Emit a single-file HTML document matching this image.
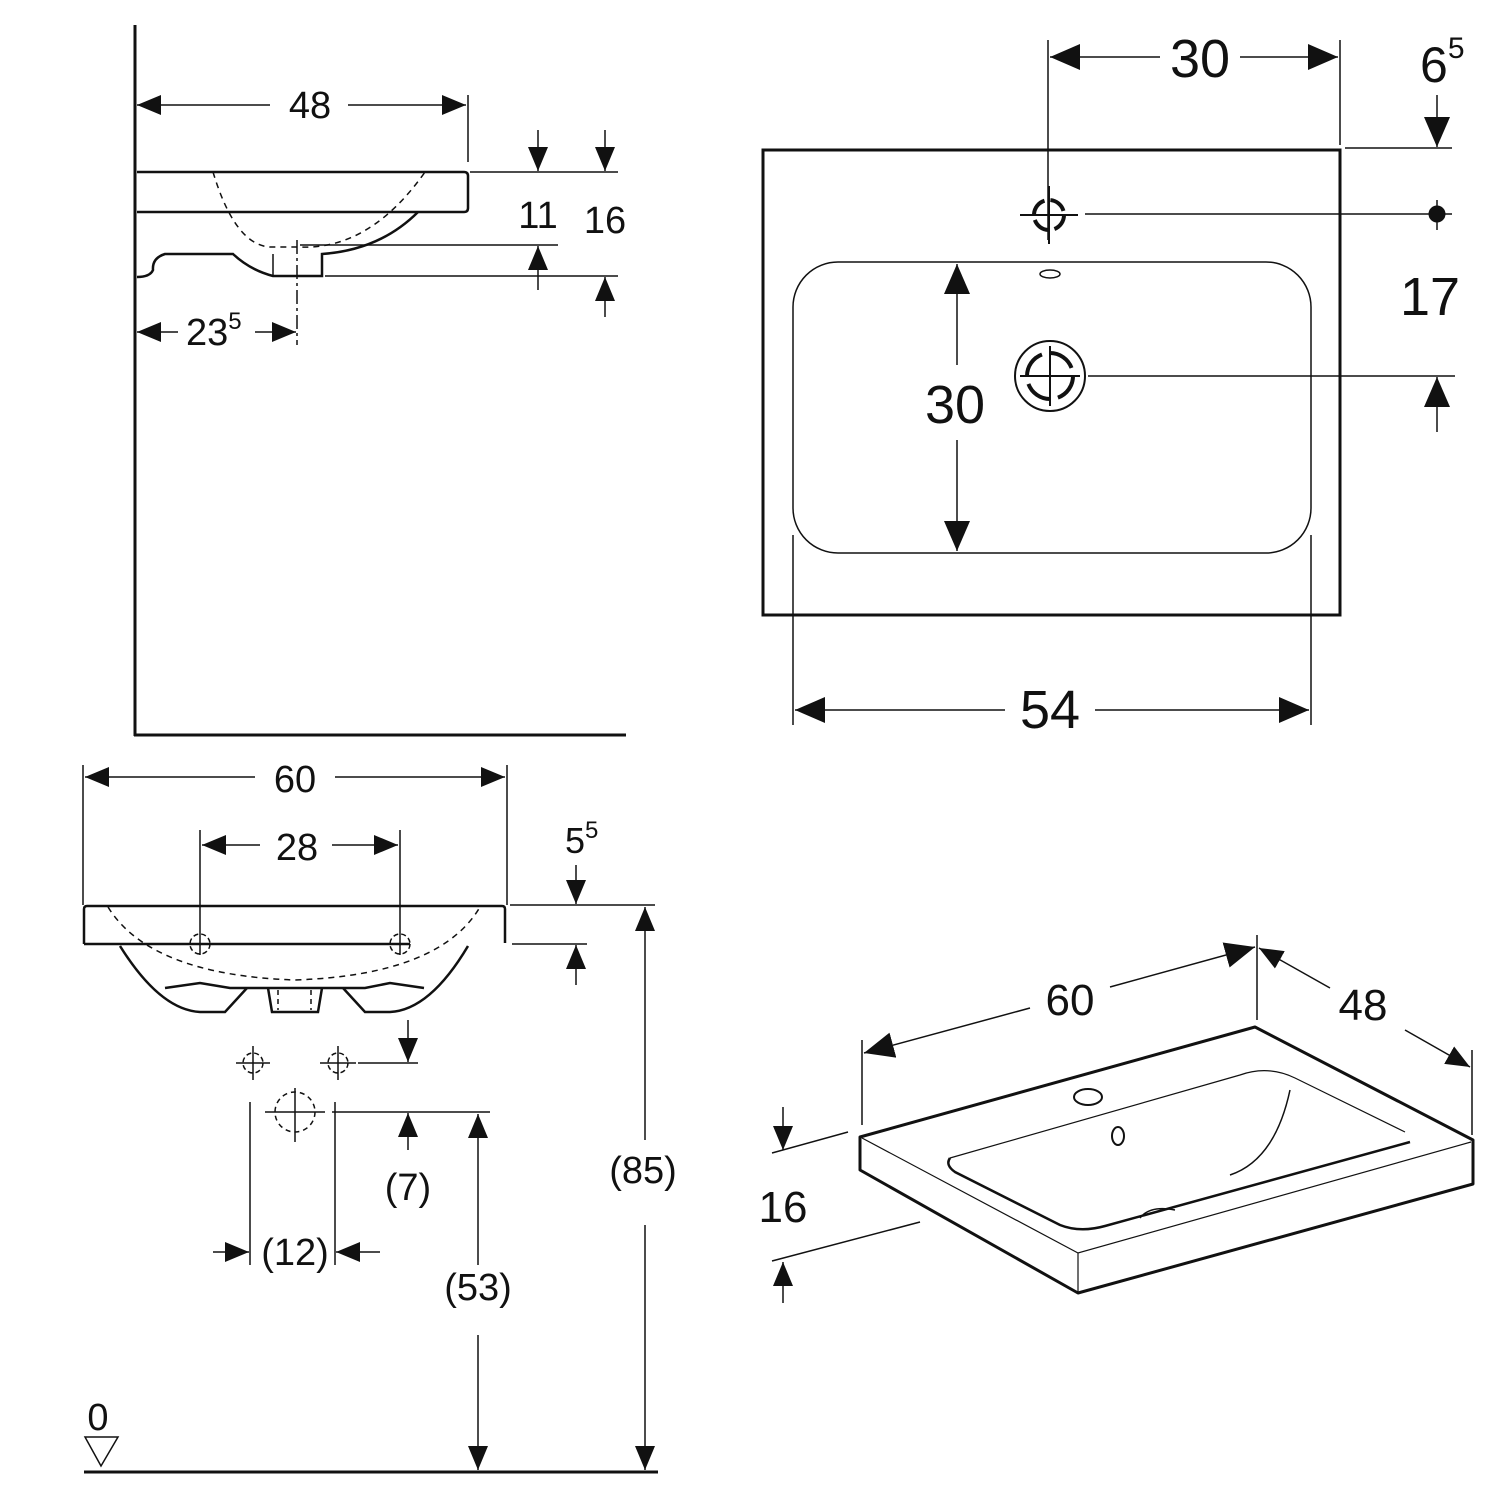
<!DOCTYPE html>
<html><head><meta charset="utf-8"><style>
html,body{margin:0;padding:0;background:#fff}
svg{display:block}
text{font-family:"Liberation Sans",Arial,sans-serif;fill:#111}
</style></head><body>
<svg width="1500" height="1500" viewBox="0 0 1500 1500" xmlns="http://www.w3.org/2000/svg">
<defs>
<marker id="a" markerUnits="userSpaceOnUse" markerWidth="32" markerHeight="28" refX="30" refY="13" orient="auto-start-reverse"><path d="M0,0 L30,13 L0,26 Z" fill="#111"/></marker>
<marker id="b" markerUnits="userSpaceOnUse" markerWidth="26" markerHeight="22" refX="24" refY="10" orient="auto-start-reverse"><path d="M0,0 L24,10 L0,20 Z" fill="#111"/></marker>
</defs>
<g stroke="#111" fill="none">
<!-- ===== Side view top-left ===== -->
<line x1="135" y1="25" x2="135" y2="736" stroke-width="3"/>
<line x1="134" y1="735" x2="626" y2="735" stroke-width="3"/>
<line x1="468" y1="95" x2="468" y2="162" stroke-width="1.5"/>
<line x1="137" y1="105" x2="270" y2="105" stroke-width="1.5" marker-start="url(#b)"/>
<line x1="348" y1="105" x2="466" y2="105" stroke-width="1.5" marker-end="url(#b)"/>
<path d="M137,172 H464 Q468,172 468,176 V208 Q468,212 464,212 H137" stroke-width="2.5"/>
<path d="M137,277 Q150,277 153,270 Q152,258 165,254 H233 Q250,270 273,276 H322 V254 Q380,250 418,212" stroke-width="2.5"/>
<path d="M273,254 V276" stroke-width="1.5"/>
<path d="M213,172 Q235,245 270,247 H300 Q370,250 425,172" stroke-width="1.5" stroke-dasharray="6,5"/>
<line x1="297" y1="240" x2="297" y2="345" stroke-width="1.5" stroke-dasharray="14,4,3,4"/>
<line x1="470" y1="172" x2="618" y2="172" stroke-width="1.5"/>
<line x1="300" y1="245" x2="558" y2="245" stroke-width="1.5"/>
<line x1="325" y1="276" x2="618" y2="276" stroke-width="1.5"/>
<line x1="538" y1="130" x2="538" y2="171" stroke-width="1.5" marker-end="url(#b)"/>
<line x1="538" y1="290" x2="538" y2="246" stroke-width="1.5" marker-end="url(#b)"/>
<line x1="605" y1="130" x2="605" y2="171" stroke-width="1.5" marker-end="url(#b)"/>
<line x1="605" y1="317" x2="605" y2="277" stroke-width="1.5" marker-end="url(#b)"/>
<line x1="137" y1="332" x2="178" y2="332" stroke-width="1.5" marker-start="url(#b)"/>
<line x1="255" y1="332" x2="296" y2="332" stroke-width="1.5" marker-end="url(#b)"/>

<!-- ===== Plan view top-right ===== -->
<rect x="763" y="150" width="577" height="465" stroke-width="3"/>
<rect x="793" y="262" width="518" height="291" rx="45" stroke-width="1.5"/>
<line x1="1048" y1="40" x2="1048" y2="240" stroke-width="1.5"/>
<line x1="1340" y1="40" x2="1340" y2="145" stroke-width="1.5"/>
<line x1="1050" y1="57" x2="1160" y2="57" stroke-width="1.5" marker-start="url(#a)"/>
<line x1="1240" y1="57" x2="1338" y2="57" stroke-width="1.5" marker-end="url(#a)"/>
<circle cx="1049" cy="215" r="15" stroke-width="4" stroke-dasharray="18,6"/>
<line x1="1020" y1="215" x2="1078" y2="215" stroke-width="2"/>
<line x1="1049" y1="186" x2="1049" y2="244" stroke-width="2"/>
<ellipse cx="1050" cy="274" rx="10" ry="4" stroke-width="1.5"/>
<circle cx="1050" cy="376" r="35" stroke-width="2"/>
<circle cx="1050" cy="376" r="23" stroke-width="4" stroke-dasharray="28,8"/>
<line x1="1020" y1="376" x2="1080" y2="376" stroke-width="2"/>
<line x1="1050" y1="346" x2="1050" y2="406" stroke-width="2"/>
<line x1="1345" y1="148" x2="1452" y2="148" stroke-width="1.5"/>
<line x1="1437" y1="95" x2="1437" y2="147" stroke-width="1.5" marker-end="url(#a)"/>
<line x1="1085" y1="214" x2="1452" y2="214" stroke-width="1.5"/>
<line x1="1437" y1="200" x2="1437" y2="230" stroke-width="1.5"/>
<circle cx="1437" cy="214" r="8" fill="#111"/>
<line x1="1088" y1="376" x2="1455" y2="376" stroke-width="1.5"/>
<line x1="1437" y1="432" x2="1437" y2="377" stroke-width="1.5" marker-end="url(#a)"/>
<line x1="957" y1="365" x2="957" y2="264" stroke-width="1.5" marker-end="url(#a)"/>
<line x1="957" y1="440" x2="957" y2="551" stroke-width="1.5" marker-end="url(#a)"/>
<line x1="793" y1="535" x2="793" y2="725" stroke-width="1.5"/>
<line x1="1311" y1="535" x2="1311" y2="725" stroke-width="1.5"/>
<line x1="795" y1="710" x2="1005" y2="710" stroke-width="1.5" marker-start="url(#a)"/>
<line x1="1095" y1="710" x2="1309" y2="710" stroke-width="1.5" marker-end="url(#a)"/>

<!-- ===== Front view bottom-left ===== -->
<line x1="83" y1="765" x2="83" y2="905" stroke-width="1.5"/>
<line x1="507" y1="765" x2="507" y2="905" stroke-width="1.5"/>
<line x1="85" y1="777" x2="255" y2="777" stroke-width="1.5" marker-start="url(#b)"/>
<line x1="335" y1="777" x2="505" y2="777" stroke-width="1.5" marker-end="url(#b)"/>
<line x1="200" y1="830" x2="200" y2="955" stroke-width="1.5"/>
<line x1="400" y1="830" x2="400" y2="955" stroke-width="1.5"/>
<line x1="202" y1="845" x2="260" y2="845" stroke-width="1.5" marker-start="url(#b)"/>
<line x1="332" y1="845" x2="398" y2="845" stroke-width="1.5" marker-end="url(#b)"/>
<path d="M84,944 V909 Q84,906 87,906 H502 Q505,906 505,909 V943" stroke-width="2.5"/>
<line x1="84" y1="944" x2="410" y2="944" stroke-width="2.5"/>
<path d="M120,946 Q160,1010 200,1012 H225 L247,988" stroke-width="2.5"/>
<path d="M468,946 Q430,1010 390,1012 H365 L343,988" stroke-width="2.5"/>
<path d="M165,988 L200,983 L230,988 H365 L390,983 L424,988" stroke-width="2.5"/>
<path d="M268,988 L272,1012 H318 L322,988" stroke-width="2.5"/>
<path d="M278,990 V1010 M311,990 V1010" stroke-width="1.5" stroke-dasharray="5,4"/>
<path d="M108,907 Q150,975 295,980 Q440,975 480,907" stroke-width="1.5" stroke-dasharray="6,5"/>
<circle cx="200" cy="944" r="10" stroke-width="1.5" stroke-dasharray="5,3"/>
<circle cx="400" cy="944" r="10" stroke-width="1.5" stroke-dasharray="5,3"/>
<line x1="510" y1="905" x2="655" y2="905" stroke-width="1.5"/>
<line x1="512" y1="944" x2="587" y2="944" stroke-width="1.5"/>
<line x1="576" y1="865" x2="576" y2="904" stroke-width="1.5" marker-end="url(#b)"/>
<line x1="576" y1="985" x2="576" y2="945" stroke-width="1.5" marker-end="url(#b)"/>
<line x1="645" y1="1140" x2="645" y2="907" stroke-width="1.5" marker-end="url(#b)"/>
<line x1="645" y1="1225" x2="645" y2="1470" stroke-width="1.5" marker-end="url(#b)"/>
<line x1="84" y1="1472" x2="658" y2="1472" stroke-width="3"/>
<path d="M85,1437 H118 L101,1466 Z" stroke-width="1.5"/>
<circle cx="253" cy="1063" r="10" stroke-width="1.5" stroke-dasharray="5,3"/>
<path d="M236,1063 H270 M253,1046 V1080" stroke-width="1.5"/>
<circle cx="338" cy="1063" r="10" stroke-width="1.5" stroke-dasharray="5,3"/>
<path d="M320,1063 H356 M338,1046 V1080" stroke-width="1.5"/>
<line x1="358" y1="1063" x2="418" y2="1063" stroke-width="1.5"/>
<line x1="408" y1="1020" x2="408" y2="1062" stroke-width="1.5" marker-end="url(#b)"/>
<circle cx="295" cy="1112" r="20" stroke-width="1.5" stroke-dasharray="5,4"/>
<path d="M265,1112 H325 M295,1088 V1142" stroke-width="1.5"/>
<line x1="332" y1="1112" x2="490" y2="1112" stroke-width="1.5"/>
<line x1="250" y1="1102" x2="250" y2="1265" stroke-width="1.5"/>
<line x1="335" y1="1102" x2="335" y2="1265" stroke-width="1.5"/>
<line x1="408" y1="1150" x2="408" y2="1113" stroke-width="1.5" marker-end="url(#b)"/>
<line x1="478" y1="1265" x2="478" y2="1114" stroke-width="1.5" marker-end="url(#b)"/>
<line x1="478" y1="1335" x2="478" y2="1470" stroke-width="1.5" marker-end="url(#b)"/>
<line x1="213" y1="1252" x2="249" y2="1252" stroke-width="1.5" marker-end="url(#b)"/>
<line x1="380" y1="1252" x2="336" y2="1252" stroke-width="1.5" marker-end="url(#b)"/>

<!-- ===== 3D view bottom-right ===== -->
<path d="M860,1137 L1255,1027 L1473,1140 V1184 L1078,1293 L860,1170 Z" stroke-width="3" stroke-linejoin="round"/>
<path d="M862,1138 L1078,1253 L1471,1142 M1078,1253 V1292" stroke-width="1.2"/>
<path d="M950,1158 L1240,1075 Q1268,1065 1295,1078 L1405,1132" stroke-width="1.2"/>
<path d="M1410,1142 L1105,1226 Q1080,1233 1060,1225 L955,1172 Q945,1165 950,1158" stroke-width="2.5"/>
<path d="M1290,1090 Q1275,1160 1230,1175" stroke-width="1.5"/>
<path d="M1140,1218 Q1150,1205 1175,1210" stroke-width="1.5"/>
<ellipse cx="1088" cy="1097" rx="14" ry="8" stroke-width="2"/>
<ellipse cx="1118" cy="1136" rx="6" ry="9" stroke-width="2"/>
<line x1="862" y1="1040" x2="862" y2="1125" stroke-width="1.5"/>
<line x1="1257" y1="935" x2="1257" y2="1020" stroke-width="1.5"/>
<line x1="1472" y1="1050" x2="1472" y2="1135" stroke-width="1.5"/>
<line x1="1030" y1="1008" x2="864" y2="1053" stroke-width="1.5" marker-end="url(#a)"/>
<line x1="1110" y1="987" x2="1255" y2="947" stroke-width="1.5" marker-end="url(#a)"/>
<line x1="1330" y1="988" x2="1259" y2="948" stroke-width="1.5" marker-end="url(#b)"/>
<line x1="1405" y1="1030" x2="1470" y2="1067" stroke-width="1.5" marker-end="url(#b)"/>
<line x1="772" y1="1153" x2="848" y2="1132" stroke-width="1.5"/>
<line x1="772" y1="1261" x2="920" y2="1222" stroke-width="1.5"/>
<line x1="783" y1="1107" x2="783" y2="1150" stroke-width="1.5" marker-end="url(#b)"/>
<line x1="783" y1="1303" x2="783" y2="1262" stroke-width="1.5" marker-end="url(#b)"/>
</g>
<g>
<text x="310" y="118" font-size="38" text-anchor="middle">48</text>
<text x="538" y="228" font-size="38" text-anchor="middle">11</text>
<text x="605" y="233" font-size="38" text-anchor="middle">16</text>
<text x="186" y="345" font-size="38">23<tspan font-size="24" dy="-16">5</tspan></text>
<text x="1200" y="77" font-size="54" text-anchor="middle">30</text>
<text x="1420" y="82" font-size="50">6<tspan font-size="30" dy="-24">5</tspan></text>
<text x="1430" y="315" font-size="54" text-anchor="middle">17</text>
<text x="955" y="423" font-size="54" text-anchor="middle">30</text>
<text x="1050" y="728" font-size="54" text-anchor="middle">54</text>
<text x="295" y="792" font-size="38" text-anchor="middle">60</text>
<text x="297" y="860" font-size="38" text-anchor="middle">28</text>
<text x="565" y="853" font-size="36">5<tspan font-size="24" dy="-15">5</tspan></text>
<text x="643" y="1183" font-size="38" text-anchor="middle">(85)</text>
<text x="98" y="1430" font-size="38" text-anchor="middle">0</text>
<text x="408" y="1200" font-size="38" text-anchor="middle">(7)</text>
<text x="478" y="1300" font-size="38" text-anchor="middle">(53)</text>
<text x="295" y="1265" font-size="38" text-anchor="middle">(12)</text>
<text x="1070" y="1015" font-size="44" text-anchor="middle">60</text>
<text x="1363" y="1020" font-size="44" text-anchor="middle">48</text>
<text x="783" y="1222" font-size="44" text-anchor="middle">16</text>
</g>
</svg>
</body></html>
